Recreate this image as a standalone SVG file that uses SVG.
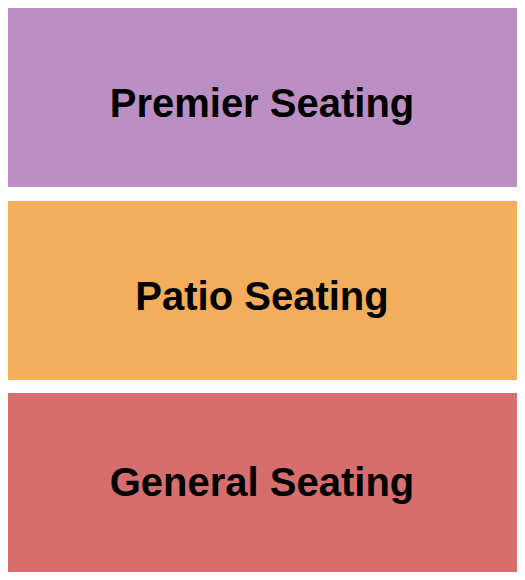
<svg xmlns="http://www.w3.org/2000/svg" width="525" height="580" viewBox="0 0 525 580">
<style>
text{font-family:"Liberation Sans",Arial,sans-serif;font-weight:bold;font-size:40px;fill:#000;text-anchor:middle}
</style>
<rect width="525" height="580" fill="#fff"/>
<g id="premier"><rect x="8" y="8" width="509" height="179" fill="#BB8FC3"/><text x="262" y="117">Premier Seating</text></g>
<g id="patio"><rect x="8" y="201" width="509" height="179" fill="#F4AD5A"/><text x="262" y="310">Patio Seating</text></g>
<g id="general"><rect x="8" y="393" width="509" height="179" fill="#D76E6E"/><text x="262" y="496">General Seating</text></g>
<g id="connectors"/>
</svg>
